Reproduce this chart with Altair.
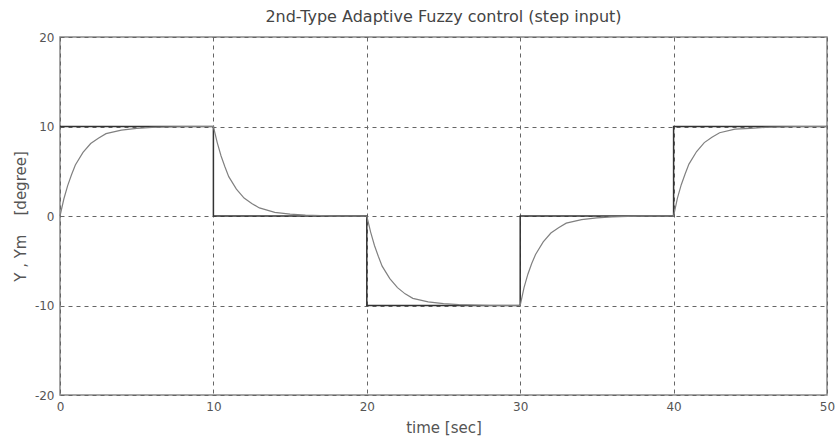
import altair as alt
import pandas as pd

# Reference step input Ym
step_time = [0, 10, 10, 20, 20, 30, 30, 40, 40, 50]
step_y = [10, 10, 0, 0, -10, -10, 0, 0, 10, 10]

# Plant response Y
resp_time = [
    0, 0.25, 0.5, 0.75, 1, 1.5, 2, 2.5, 3, 4, 5, 6, 8,
    10, 10.25, 10.5, 10.75, 11, 11.5, 12, 12.5, 13, 14, 15, 16, 18,
    20, 20.25, 20.5, 20.75, 21, 21.5, 22, 22.5, 23, 24, 25, 26, 28,
    30, 30.25, 30.5, 30.75, 31, 31.5, 32, 32.5, 33, 34, 35, 36, 38,
    40, 40.25, 40.5, 40.75, 41, 41.5, 42, 42.5, 43, 44, 45, 46, 48,
    50,
]
resp_y = [
    0, 1.9, 3.4, 4.6, 5.7, 7.1, 8.1, 8.7, 9.2, 9.6, 9.8, 9.9, 10.0,
    10, 8.2, 6.7, 5.5, 4.4, 3.0, 2.0, 1.4, 0.9, 0.4, 0.2, 0.1, 0.0,
    0, -1.8, -3.3, -4.5, -5.6, -7.0, -8.0, -8.7, -9.2, -9.6, -9.8, -9.9, -10.0,
    -10, -8.0, -6.5, -5.3, -4.3, -2.9, -1.9, -1.3, -0.8, -0.4, -0.2, -0.1, 0.0,
    0, 2.0, 3.5, 4.7, 5.8, 7.2, 8.2, 8.8, 9.3, 9.7, 9.8, 9.9, 10.0,
    10.0,
]

x_ticks = [0, 10, 20, 30, 40, 50]
y_ticks = [-20, -10, 0, 10, 20]

df_step = pd.DataFrame({"t": step_time, "y": step_y, "i": list(range(len(step_time)))})
df_resp = pd.DataFrame({"t": resp_time, "y": resp_y, "i": list(range(len(resp_time)))})

x_enc = alt.X(
    "t:Q",
    scale=alt.Scale(domain=[0, 50], nice=False, zero=False),
    axis=alt.Axis(values=x_ticks, title="time [sec]", labelPadding=6, titlePadding=8,
                  labelFlush=False, labelExpr="'' + datum.value"),
)
y_enc = alt.Y(
    "y:Q",
    scale=alt.Scale(domain=[-20, 20], nice=False),
    axis=alt.Axis(values=y_ticks, title="Y , Ym\u00a0\u00a0\u00a0\u00a0[degree]", labelPadding=6,
                  titlePadding=6, labelFlush=False, labelExpr="'' + datum.value"),
)

step = alt.Chart(df_step).mark_line(color="#333333", strokeWidth=1.5).encode(
    x=x_enc, y=y_enc, order=alt.Order("i:Q")
)
resp = alt.Chart(df_resp).mark_line(color="#808080", strokeWidth=1.2).encode(
    x=x_enc, y=y_enc, order=alt.Order("i:Q")
)

chart = (
    alt.layer(step, resp)
    .properties(
        width=767,
        height=358,
        autosize=alt.AutoSizeParams(type="none"),
        padding={"left": 60, "top": 37, "right": 13, "bottom": 47},
        background="white",
        title=alt.TitleParams(
            "2nd-Type Adaptive Fuzzy control (step input)",
            font="DejaVu Sans",
            fontSize=16,
            fontWeight="normal",
            color="#444444",
            anchor="middle",
            offset=6,
        ),
    )
    .configure_view(stroke="#888888", strokeWidth=1.5)
    .configure_axis(
        domain=False,
        ticks=False,
        grid=True,
        gridColor="#666666",
        gridDash=[4, 4],
        gridWidth=1,
        labelFont="DejaVu Sans",
        labelFontSize=12,
        labelColor="#555555",
        titleFont="DejaVu Sans",
        titleFontSize=15,
        titleFontWeight="normal",
        titleColor="#555555",
    )
)

chart.save("out.html", embed_options={"renderer": "svg", "actions": False})
